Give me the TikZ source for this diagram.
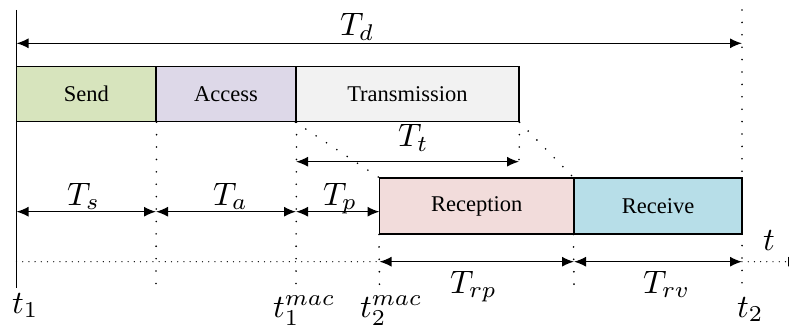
\documentclass[tikz,border=0pt]{standalone}
\usepackage[no-math]{fontspec}
\newfontfamily\boxfont{Liberation Serif}
\usetikzlibrary{arrows.meta}
\definecolor{sendc}{HTML}{D7E4BD}
\definecolor{accessc}{HTML}{DDD8E8}
\definecolor{transc}{HTML}{F2F2F2}
\definecolor{recepc}{HTML}{F2DCDB}
\definecolor{recvc}{HTML}{B7DEE8}
\newcommand{\ML}[1]{\scalebox{3.25}{$#1$}}
\tikzset{
  box/.style={draw=black, line width=1.1pt, inner sep=0pt, font=\boxfont\fontsize{22.5}{24}\selectfont},
  dim/.style={line width=1.4pt, {Latex[length=12pt,width=10pt]}-{Latex[length=12pt,width=10pt]}},
  vdots/.style={line width=1.8pt, line cap=round, dash pattern=on 0pt off 12.4pt},
  hdots/.style={line width=1.3pt, line cap=round, dash pattern=on 0pt off 6.2pt},
  lab/.style={inner sep=0pt, anchor=base west},
}
\begin{document}
\begin{tikzpicture}[x=1pt,y=-1pt]
\useasboundingbox (0,0) rectangle (789,331);
\clip (0,0) rectangle (789,331);
% boxes
\node[box, fill=sendc, minimum width=139.5pt, minimum height=55pt] (send) at (86.25,94.2) {Send};
\node[box, fill=accessc, minimum width=140pt, minimum height=55pt] (access) at (226,94.2) {Access};
\node[box, fill=transc, minimum width=223pt, minimum height=55pt] (trans) at (407.5,94.2) {Transmission};
\node[box, fill=recepc, minimum width=194.5pt, minimum height=56pt] (recep) at (476.75,206) {Reception};
\node[box, fill=recvc, minimum width=168pt, minimum height=56pt] (recv) at (658,206) {Receive};
% coordinates
\coordinate (t1top) at (16.5,10);
\coordinate (t1bot) at (16.5,288);
\coordinate (t2top) at (742,10);
\coordinate (t2bot) at (742,290);
\coordinate (tdL) at (16.5,43.3);
\coordinate (tdR) at (742,43.3);
\coordinate (ttL) at (296,161.7);
\coordinate (ttR) at (519,161.7);
\coordinate (r0) at (16.5,211.7);
\coordinate (r1) at (156,211.7);
\coordinate (r2) at (296,211.7);
\coordinate (r3) at (379.5,211.7);
\coordinate (b1) at (379.5,261.7);
\coordinate (b2) at (574,261.7);
\coordinate (b3) at (742,261.7);
\coordinate (tlL) at (16.5,261.7);
\coordinate (tlR) at (800,261.7);
\coordinate (d1) at (156,285);
\coordinate (d2) at (296,285);
\coordinate (d3) at (379.5,285);
\coordinate (d4) at (574,285);
% timeline
\draw[hdots] (tlL) -- (b1);
\draw[hdots, -{Latex[length=12pt,width=10pt]}] (b3) -- (tlR);
% left solid line
\draw[line width=1.4pt] (t1top) -- (t1bot);
% dotted verticals
\draw[vdots] (send.south east) -- (d1);
\draw[vdots] (access.south east) -- (d2);
\draw[vdots] (recep.south west) -- (d3);
\draw[vdots] (recv.south west) -- (d4);
\draw[vdots] (trans.south east) -- (ttR);
\draw[vdots] (t2top) -- (t2bot);
\draw[vdots] (trans.south west) -- (recep.north west);
\draw[vdots] (trans.south east) -- (recv.north west);
% dimension arrows
\draw[dim] (tdL) -- (tdR);
\draw[dim] (ttL) -- (ttR);
\draw[dim] (r0) -- (r1);
\draw[dim] (r1) -- (r2);
\draw[dim] (r2) -- (r3);
\draw[dim] (b1) -- (b2);
\draw[dim] (b2) -- (b3);
% labels
\node[lab] (Td) at (340,36) {\ML{T_d}};
\node[lab] (Tt) at (398,147) {\ML{T_t}};
\node[lab] (Ts) at (67,205) {\ML{T_s}};
\node[lab] (Ta) at (213,205) {\ML{T_a}};
\node[lab] (Tp) at (323,205) {\ML{T_p}};
\node[lab] (Trp) at (450,293) {\ML{T_{rp}}};
\node[lab] (Trv) at (643,293) {\ML{T_{rv}}};
\node[lab] (t1) at (12,313) {\ML{t_1}};
\node[lab] (t1m) at (273,317) {\ML{t_1^{mac}}};
\node[lab] (t2m) at (360,317) {\ML{t_2^{mac}}};
\node[lab] (t2) at (737,317) {\ML{t_2}};
\node[lab] (tt) at (763,250) {\ML{t}};
\end{tikzpicture}
\end{document}
